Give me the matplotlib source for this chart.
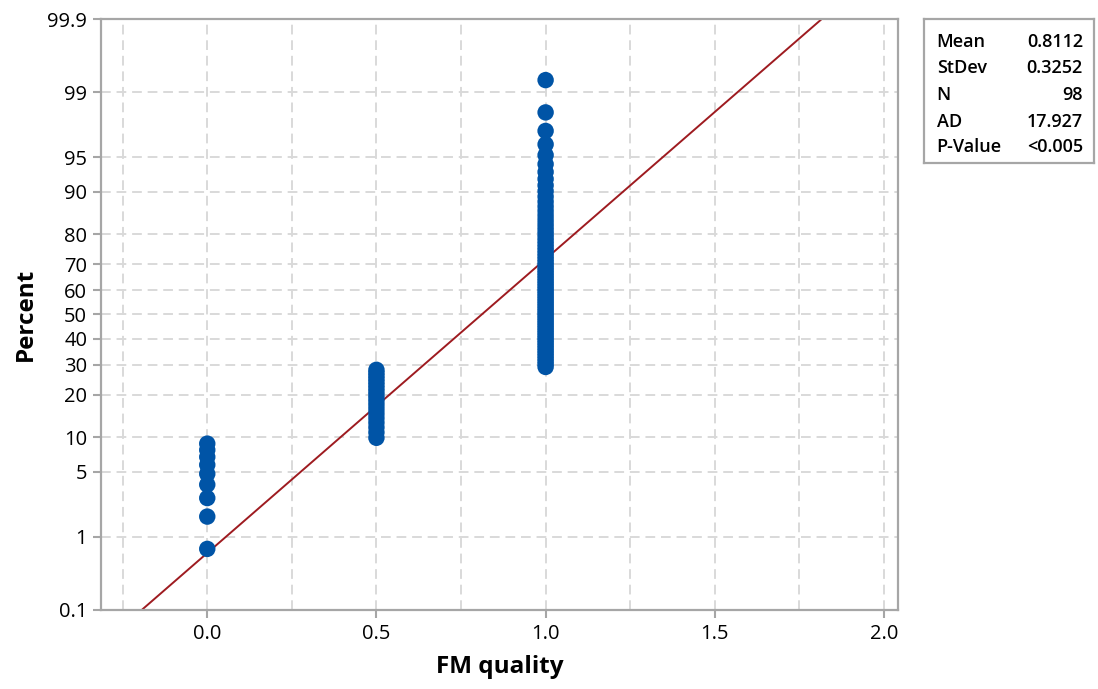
# Normal probability plot of FM quality (Minitab-style)
import numpy as np
import matplotlib
matplotlib.use('Agg')
import matplotlib.pyplot as plt
from statistics import NormalDist

plt.rcParams['font.family'] = ['Open Sans', 'DejaVu Sans']

# data: observed FM quality levels and how many of the 98 samples sit at each
fm_levels = [0.0, 0.5, 1.0]
fm_counts = [9, 19, 70]

# summary stats shown in the box
stat_names = ['Mean', 'StDev', 'N', 'AD', 'P-Value']
stat_values = ['0.8112', '0.3252', '98', '17.927', '<0.005']
mean_fit = 0.8112
sd_fit = 0.3252

y_ticks = [0.1, 1, 5, 10, 20, 30, 40, 50, 60, 70, 80, 90, 95, 99, 99.9]
x_ticks = [0.0, 0.5, 1.0, 1.5, 2.0]

DOT_COLOR = '#0054A6'
LINE_COLOR = '#9E1B20'
GRID_COLOR = '#D9D9D9'
SPINE_COLOR = '#A6A6A6'

nd = NormalDist()
_ppf = np.vectorize(lambda p: nd.inv_cdf(p), otypes=[float])
_cdf = np.vectorize(lambda z: nd.cdf(z), otypes=[float])


def prob_forward(p):
    p = np.clip(np.asarray(p, dtype=float) / 100.0, 1e-12, 1 - 1e-12)
    return _ppf(p)


def prob_inverse(z):
    return _cdf(np.asarray(z, dtype=float)) * 100.0


# raw values, sorted, with median-rank plotting positions
x_vals = np.repeat(fm_levels, fm_counts)
n = len(x_vals)
ranks = np.arange(1, n + 1)
pct = (ranks - 0.3) / (n + 0.4) * 100

fig = plt.figure(figsize=(10.98, 6.89), dpi=100)
ax = fig.add_axes([0.092, 0.1147, 0.726, 0.8577])
ax.set_yscale('function', functions=(prob_forward, prob_inverse))

# fitted normal line
xx = np.linspace(-0.4, 2.1, 400)
yy = np.array([nd.cdf((v - mean_fit) / sd_fit) for v in xx]) * 100
ax.plot(xx, yy, color=LINE_COLOR, lw=1.4, zorder=2)

ax.scatter(x_vals, pct, s=140, color=DOT_COLOR, edgecolor='none', zorder=3)

ax.set_xlim(-0.314, 2.042)
ax.set_ylim(0.1, 99.9)
ax.set_yticks(y_ticks)
ax.set_yticklabels([f'{t:g}' for t in y_ticks])
ax.set_xticks(x_ticks)
ax.set_xticklabels([f'{t:.1f}' for t in x_ticks])
ax.set_xticks(np.arange(-0.25, 2.01, 0.25), minor=True)
ax.yaxis.set_minor_locator(matplotlib.ticker.NullLocator())

ax.grid(True, which='both', axis='x', color=GRID_COLOR, ls=(0, (5, 3)), lw=1.4)
ax.grid(True, which='major', axis='y', color=GRID_COLOR, ls=(0, (5, 3)), lw=1.4)
ax.set_axisbelow(True)

for side in ['top', 'right', 'left', 'bottom']:
    ax.spines[side].set_color(SPINE_COLOR)
    ax.spines[side].set_linewidth(1.6)
ax.tick_params(which='major', length=6, width=1.5, color=SPINE_COLOR,
               labelsize=14.5, labelcolor='black', pad=4)
ax.tick_params(which='minor', length=0)
for lab in ax.get_xticklabels() + ax.get_yticklabels():
    lab.set_fontweight('medium')

ax.set_xlabel('FM quality', fontsize=17.5, fontweight='bold', labelpad=8)
ax.set_ylabel('Percent', fontsize=17.5, fontweight='bold', labelpad=7)

# stats box
bx = fig.add_axes([0.8415, 0.7634, 0.1548, 0.209])
bx.set_xticks([])
bx.set_yticks([])
for s in bx.spines.values():
    s.set_color(SPINE_COLOR)
    s.set_linewidth(1.6)
bx.set_xlim(0, 1)
bx.set_ylim(0, 1)
row_y = [0.84, 0.66, 0.475, 0.285, 0.11]
for name, val, yv in zip(stat_names, stat_values, row_y):
    bx.text(0.075, yv, name, fontsize=13, fontweight='semibold', va='center', ha='left')
    bx.text(0.935, yv, val, fontsize=13, fontweight='semibold', va='center', ha='right')

fig.savefig('out.png', dpi=100)
